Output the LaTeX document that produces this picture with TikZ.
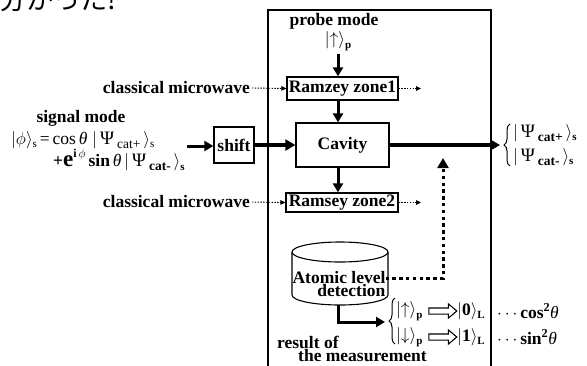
\documentclass[tikz,border=0pt]{standalone}
\usepackage{fontspec}
\setmainfont{Liberation Serif}
\newfontfamily\jpfont{Noto Sans CJK JP}
\usetikzlibrary{arrows.meta,shapes.arrows,decorations.pathreplacing}
\newcommand{\sbs}[1]{\raisebox{-0.45ex}{\fontsize{11}{11}\selectfont #1}}
\newcommand{\sbc}[1]{\raisebox{-0.5ex}{\fontsize{13.5}{13}\selectfont #1}}
\newcommand{\gk}[1]{{\mdseries\itshape #1}}
\newcommand{\kt}[2]{$|$#1$\rangle$\sbs{#2}}
\newcommand{\kpsi}[1]{$|$\,{\fontsize{19}{13}\selectfont\mdseries Ψ}\,\sbc{#1}\,$\rangle$\sbs{s}}
\tikzset{
  bx/.style={draw, line width=1.3pt, inner sep=0pt},
  txt/.style={inner sep=0pt},
  thk/.style={line width=3pt, -{Triangle[length=9pt,width=10pt]}},
  thkk/.style={line width=4pt, -{Triangle[length=10pt,width=11pt]}},
  dotar/.style={line width=0.9pt, dash pattern=on 1.4pt off 1.4pt, -{Triangle[length=5pt,width=4.5pt]}},
  fbar/.style={line width=3pt, dash pattern=on 3.4pt off 3.4pt, -{Triangle[length=10pt,width=11pt]}},
  brc/.style={line width=1pt, decorate, decoration={brace,amplitude=6pt}},
  hol/.style={single arrow, draw, line width=1.1pt, fill=white, minimum height=28pt, text height=5pt, text depth=0pt, text width=1pt, single arrow head extend=4pt, inner sep=0pt, single arrow tip angle=80}
}
\begin{document}
\begin{tikzpicture}[x=1pt,y=-1pt, font=\bfseries\fontsize{17.5}{13}\selectfont]
\clip (0,0) rectangle (587,365);
\fill[white] (0,0) rectangle (587,365);
% cropped heading
\node[anchor=base west, inner sep=0pt] (jp) at (-1,9.5) {\resizebox{117pt}{!}{\jpfont\mdseries 分かった!}};
% frame
\draw[line width=1.3pt] (268,380) -- (268,10) -- (491,10) -- (491,380);
% probe mode
\node[txt] (probe) at (334,21) {probe mode};
\node[txt] (pup) at (338,41) {\kt{$\uparrow$}{p}};
\node[bx, minimum width=111pt, minimum height=23pt] (rz1) at (342.5,88.5) {Ramzey zone1};
\node[bx, minimum width=93pt, minimum height=44pt] (cav) at (342.5,145) {Cavity};
\node[bx, minimum width=40pt, minimum height=36pt] (shift) at (234,145) {shift};
\node[bx, minimum width=112pt, minimum height=19pt] (rz2) at (342,202.5) {Ramsey zone2};
% microwaves
\node[txt, anchor=east] (mw1) at (250,88) {classical microwave};
\node[txt, anchor=east] (mw2) at (250,202) {classical microwave};
\coordinate (o1) at (421,88.5);
\coordinate (o2) at (421,202.5);
\draw[dotar] (mw1.east) ++(2pt,0) -- (rz1.west);
\draw[dotar] (mw2.east) ++(2pt,0) -- (rz2.west);
\draw[dotar] (rz1.east) -- (o1);
\draw[dotar] (rz2.east) -- (o2);
% vertical arrows
\draw[thk] ([yshift=-3pt]pup.south -| 338,0) -- (338,0 |- rz1.north);
\draw[thk] (338,0 |- rz1.south) -- (338,0 |- cav.north);
\draw[thk] (338,0 |- cav.south) -- (338,0 |- rz2.north);
% signal mode
\node[txt] (sig1) at (81,118) {signal mode};
\node[txt, anchor=west] (sig2) at (11,140) {\kt{\mdseries$\phi$}{s}\,=\,cos\,\gk{θ}\;\kpsi{cat+}};
\node[txt, anchor=west] (sig3) at (53,160) {+{\fontsize{23}{13}\selectfont e}\raisebox{1.1ex}{\fontsize{12}{12}\selectfont i\,\mdseries$\phi$}\,sin\,\gk{θ}\,\kpsi{cat-}};
\coordinate (sigs) at (187,146);
\draw[thk] (sigs) -- (shift.west |- sigs);
\draw[thkk] (shift.east) -- (cav.west);
% output
\coordinate (otip) at (500,145);
\draw[thkk] (cav.east) -- (otip);
\draw[brc] (510,166) -- (510,124);
\node[txt, anchor=west] (ps1) at (513,133) {\kpsi{cat+}};
\node[txt, anchor=west] (ps2) at (513,157) {\kpsi{cat-}};
% detection cylinder
\draw[line width=1.1pt] (292,252) -- (292,295) arc[start angle=180, end angle=0, x radius=48, y radius=10] -- (388,252);
\draw[line width=1.1pt] (340,252) ellipse [x radius=48, y radius=10];
\node[txt, align=right] (det) at (339,284) {Atomic level\\detection};
\coordinate (fbt) at (443,158);
\draw[fbar] ([yshift=-7pt]det.north east) -| (fbt);
% measurement
\coordinate (cylb) at (338,305);
\coordinate (btip) at (385,322);
\draw[thk] (cylb) |- (btip);
\draw[brc] (395,344) -- (395,298);
\node[txt, anchor=west] (u1) at (396,311) {\kt{$\uparrow$}{p}};
\node[hol] (h1) at (441,311) {};
\node[txt, anchor=west] (z0) at (457,311) {\kt{0}{L}};
\node[txt, anchor=west] (pc) at (497,311) {$\cdots$\,cos$^{\mathbf 2}$\gk{θ}};
\node[txt, anchor=west] (u2) at (396,337) {\kt{$\downarrow$}{p}};
\node[hol] (h2) at (441,337) {};
\node[txt, anchor=west] (z1) at (457,337) {\kt{1}{L}};
\node[txt, anchor=west] (ps) at (497,337) {$\cdots$\,sin$^{\mathbf 2}$\gk{θ}};
\node[txt, anchor=north west, align=left] (res) at (277,336) {result of\\\hspace*{21pt}the measurement};
\end{tikzpicture}
\end{document}
